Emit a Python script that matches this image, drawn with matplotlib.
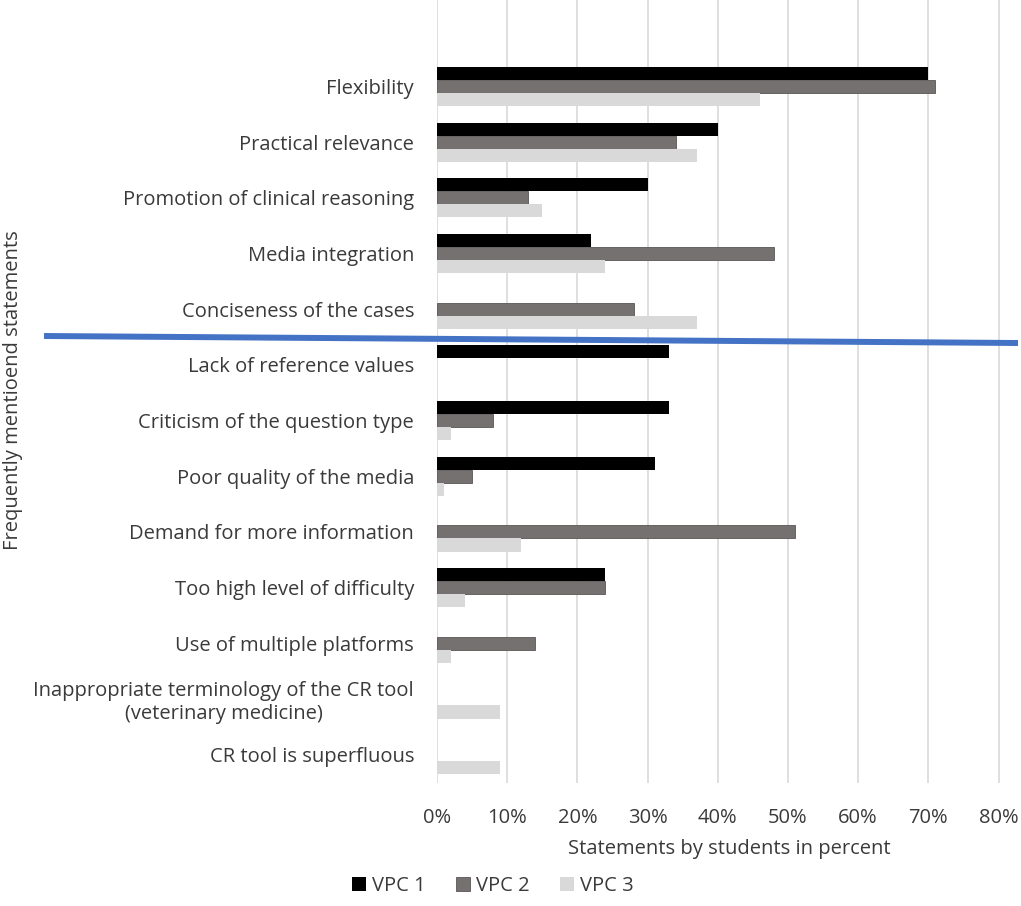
import matplotlib
matplotlib.use("Agg")
import matplotlib.pyplot as plt
from matplotlib.lines import Line2D
from matplotlib.ticker import PercentFormatter
import numpy as np

# Data
statements = [
    "Flexibility",
    "Practical relevance",
    "Promotion of clinical reasoning",
    "Media integration",
    "Conciseness of the cases",
    "Lack of reference values",
    "Criticism of the question type",
    "Poor quality of the media",
    "Demand for more information",
    "Too high level of difficulty",
    "Use of multiple platforms",
    "Inappropriate terminology of the CR tool\n(veterinary medicine)",
    "CR tool is superfluous",
]
vpc1 = [70, 40, 30, 22, 0, 33, 33, 31, 0, 24, 0, 0, 0]
vpc2 = [71, 34, 13, 48, 28, 0, 8, 5, 51, 24, 14, 0, 0]
vpc3 = [46, 37, 15, 24, 37, 0, 2, 1, 12, 4, 2, 9, 9]
x_ticks = [0, 10, 20, 30, 40, 50, 60, 70, 80]

plt.rcParams['font.family'] = ['Open Sans', 'DejaVu Sans']
text_color = '#3a3a3a'
fs = 14.5

fig = plt.figure(figsize=(10.21, 9.06), dpi=100)
ax = fig.add_axes([437 / 1021, 1 - 783 / 906, 1 - 437 / 1021, 783 / 906])

y = np.arange(len(statements))
h = 0.235
ax.barh(y - h, vpc1, height=h, color='black', linewidth=0, label='VPC 1', zorder=3)
ax.barh(y, vpc2, height=h, color='#767171', edgecolor='#5a5555',
        linewidth=[0.6 if v else 0 for v in vpc2], label='VPC 2', zorder=3)
ax.barh(y + h, vpc3, height=h, color='#D9D9D9', linewidth=0, label='VPC 3', zorder=3)

ax.set_xlim(0, 83.2)
ax.set_ylim(12.51, -1.554)
ax.set_xticks(x_ticks)
ax.xaxis.set_major_formatter(PercentFormatter(decimals=0))
ax.set_yticks(y)
ax.set_yticklabels(statements, multialignment='center')
ax.tick_params(axis='both', length=0, labelsize=fs, labelcolor=text_color)
ax.tick_params(axis='y', pad=16.5)
ax.tick_params(axis='x', pad=18)
ax.grid(axis='x', color='#D9D9D9', linewidth=1.2, zorder=0)
for s in ax.spines.values():
    s.set_visible(False)

ax.set_xlabel("Statements by students in percent", fontsize=fs, color=text_color, labelpad=8)
fig.text(13 / 1021, 1 - 390 / 906, "Frequently mentioend statements", rotation=90,
         ha='center', va='center', fontsize=fs, color=text_color)

fig.legend(loc='center', bbox_to_anchor=(493 / 1021, 1 - 886 / 906), ncol=3, frameon=False,
           fontsize=fs, handlelength=0.7, handleheight=0.7, handletextpad=0.3, columnspacing=1.5,
           labelcolor=text_color)

# blue hand-drawn divider line
fig.add_artist(Line2D([44 / 1021, 1018 / 1021], [1 - 336 / 906, 1 - 343 / 906],
                      transform=fig.transFigure, color='#4472C4', linewidth=4.3,
                      solid_capstyle='butt', zorder=10))

fig.savefig("out.png", dpi=100)
